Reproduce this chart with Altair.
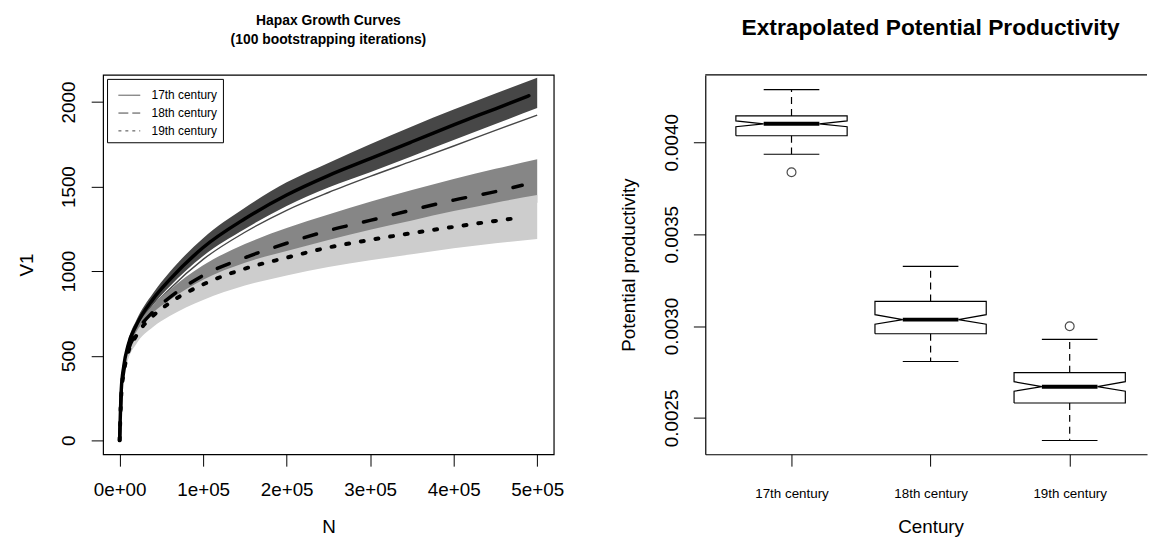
import json
import altair as alt
import pandas as pd

FONT = "Liberation Sans"

# ---------------- Left panel: hapax growth curves ----------------
centuries = ["17th century", "18th century", "19th century"]
band_colors = ["#474747", "#868686", "#cdcdcd"]

band_N = [0, 2000, 5000, 10000, 20000, 40000, 60000, 100000, 150000,
          200000, 250000, 300000, 350000, 400000, 450000, 500000]
c17_upper = [0, 315, 460, 585, 710, 870, 995, 1195, 1375, 1525, 1640, 1750, 1855, 1955, 2050, 2144]
c17_lower = [0, 285, 420, 535, 650, 800, 910, 1090, 1250, 1385, 1495, 1585, 1680, 1775, 1870, 1965]
c17_single = [0, 285, 415, 525, 640, 790, 895, 1070, 1230, 1360, 1465, 1560, 1650, 1740, 1832, 1922]
c18_upper = [0, 290, 425, 545, 665, 800, 890, 1035, 1160, 1255, 1335, 1410, 1480, 1545, 1605, 1662]
c18_lower = [0, 260, 385, 495, 595, 710, 785, 900, 1000, 1080, 1150, 1210, 1265, 1315, 1360, 1405]
c19_upper = [0, 280, 410, 530, 640, 755, 830, 950, 1050, 1120, 1185, 1245, 1300, 1355, 1405, 1450]
c19_lower = [0, 250, 370, 475, 570, 670, 735, 830, 915, 975, 1025, 1065, 1100, 1135, 1165, 1190]

mean_N_17 = [0, 2000, 5000, 10000, 20000, 40000, 60000, 100000, 150000,
             200000, 250000, 300000, 350000, 400000, 450000, 490000]
mean_N_1819 = [0, 2000, 5000, 10000, 20000, 40000, 60000, 100000, 150000,
               200000, 250000, 300000, 350000, 400000, 450000, 482000]
mean17 = [0, 300, 440, 560, 680, 835, 950, 1140, 1310, 1450, 1565, 1665, 1765, 1865, 1960, 2037]
mean18 = [0, 280, 410, 525, 635, 760, 845, 975, 1080, 1165, 1240, 1300, 1362, 1420, 1470, 1508]
mean19 = [0, 270, 400, 515, 619, 736, 813, 922, 1015, 1080, 1140, 1185, 1225, 1262, 1297, 1318]

x_ticks = [0, 100000, 200000, 300000, 400000, 500000]
x_tick_labels = ["0e+00", "1e+05", "2e+05", "3e+05", "4e+05", "5e+05"]
y_ticks = [0, 500, 1000, 1500, 2000]

LW, LH = 455, 383

xs = alt.Scale(domain=[-19800, 519800], nice=False, zero=False)
ys = alt.Scale(domain=[-82, 2160], nice=False, zero=False)

x_axis_left = alt.Axis(
    values=x_ticks,
    labelExpr=json.dumps(x_tick_labels) + "[round(datum.value / 100000)]",
    labelFont=FONT, labelFontSize=19, labelColor="black",
    labelBaseline="alphabetic", labelPadding=30, labelFlush=False, labelOverlap=False,
    tickSize=12, tickColor="black", tickWidth=1, domain=False, grid=False,
    title="N", titleFont=FONT, titleFontSize=19, titleFontWeight="normal",
    titleColor="black", titleBaseline="alphabetic", titleAlign="center",
    titleX=LW / 2, titleY=79,
)
y_axis_left = alt.Axis(
    values=y_ticks, format="d",
    labelFont=FONT, labelFontSize=19, labelColor="black",
    labelAngle=270, labelAlign="center", labelBaseline="alphabetic",
    labelPadding=17, labelOverlap=False, labelFlush=False,
    tickSize=12, tickColor="black", tickWidth=1, domain=False, grid=False,
    title="V1", titleFont=FONT, titleFontSize=19, titleFontWeight="normal",
    titleColor="black", titleAngle=270, titleAlign="center",
    titleBaseline="alphabetic", titleX=-71, titleY=LH / 2,
)


def band_layer(upper, lower, color):
    df = pd.DataFrame({"N": band_N, "upper": upper, "lower": lower})
    return alt.Chart(df).mark_area(color=color, interpolate="monotone").encode(
        x=alt.X("N:Q", scale=xs, axis=x_axis_left, title="N"),
        y=alt.Y("upper:Q", scale=ys, axis=y_axis_left, title="V1"),
        y2="lower:Q",
    )


def line_layer(nvals, vvals, **mark):
    df = pd.DataFrame({"N": nvals, "V": vvals})
    return alt.Chart(df).mark_line(interpolate="monotone", **mark).encode(
        x=alt.X("N:Q", scale=xs, axis=x_axis_left, title="N"),
        y=alt.Y("V:Q", scale=ys, axis=y_axis_left, title="V1"),
    )


legend_df = pd.DataFrame({
    "N": mean_N_17 + mean_N_1819 + mean_N_1819,
    "V": mean17 + mean18 + mean19,
    "century": [centuries[0]] * len(mean17) + [centuries[1]] * len(mean18) + [centuries[2]] * len(mean19),
})
legend_layer = alt.Chart(legend_df).transform_filter("datum.N < 0").mark_line(
    color="#444444", strokeWidth=1
).encode(
    x=alt.X("N:Q", scale=xs, axis=x_axis_left, title="N"),
    y=alt.Y("V:Q", scale=ys, axis=y_axis_left, title="V1"),
    strokeDash=alt.StrokeDash(
        "century:N",
        scale=alt.Scale(domain=centuries, range=[[1, 0], [10, 4], [3, 4]]),
        legend=alt.Legend(
            title=None, orient="top-left", offset=4,
            symbolType="stroke", symbolSize=484, symbolStrokeWidth=1,
            symbolStrokeColor="#444444", symbolOffset=6,
            labelFont=FONT, labelFontSize=12, labelColor="black",
            labelOffset=11, labelLimit=300,
            strokeColor="black", fillColor="white", padding=5, rowPadding=-7,
        ),
    ),
)

left = alt.layer(
    band_layer(c17_upper, c17_lower, band_colors[0]),
    line_layer(band_N, c17_single, color=band_colors[0], strokeWidth=1.4),
    band_layer(c18_upper, c18_lower, band_colors[1]),
    band_layer(c19_upper, c19_lower, band_colors[2]),
    line_layer(mean_N_17, mean17, color="black", strokeWidth=3.5, strokeCap="round"),
    line_layer(mean_N_1819, mean18, color="black", strokeWidth=3.5, strokeCap="round", strokeDash=[13, 18]),
    line_layer(mean_N_1819, mean19, color="black", strokeWidth=4, strokeCap="round", strokeDash=[3, 12]),
    legend_layer,
).properties(
    width=LW, height=LH,
    title=alt.TitleParams(
        text=["Hapax Growth Curves", "(100 bootstrapping iterations)"],
        font=FONT, fontSize=14, fontWeight="bold", color="black",
        anchor="middle", offset=28, lineHeight=19,
    ),
)

# ---------------- Right panel: notched box plots ----------------
century_idx = [1, 2, 3]
whisk_lo = [0.003935, 0.002807, 0.002377]
q1 = [0.004036, 0.002958, 0.002581]
notch_lo = [0.004085, 0.003010, 0.002645]
median = [0.004101, 0.003035, 0.002670]
notch_hi = [0.004117, 0.003062, 0.002697]
q3 = [0.004144, 0.003134, 0.002746]
whisk_hi = [0.004287, 0.003325, 0.002927]
outlier_idx = [1, 3]
outlier_val = [0.003837, 0.002999]
p_ticks = [0.0025, 0.0030, 0.0035, 0.0040]

BOX_HALF, NOTCH_HALF, CAP_HALF = 0.4, 0.2, 0.2
RW, RH = 446, 383

bxs = alt.Scale(domain=[0.38, 3.556], nice=False, zero=False)
bys = alt.Scale(domain=[0.002302, 0.004367], nice=False, zero=False)

x_axis_right = alt.Axis(
    values=century_idx,
    labelExpr=json.dumps(centuries) + "[round(datum.value) - 1]",
    labelFont=FONT, labelFontSize=13.5, labelColor="black",
    labelBaseline="alphabetic", labelPadding=32, labelFlush=False, labelOverlap=False,
    tickSize=12, tickColor="black", tickWidth=1,
    domain=True, domainColor="black", domainWidth=1.2, grid=False,
    title="Century", titleFont=FONT, titleFontSize=19, titleFontWeight="normal",
    titleColor="black", titleBaseline="alphabetic", titleAlign="center",
    titleX=227.5, titleY=79,
)
y_axis_right = alt.Axis(
    values=p_ticks, format=".4f",
    labelFont=FONT, labelFontSize=19, labelColor="black",
    labelAngle=270, labelAlign="center", labelBaseline="alphabetic",
    labelPadding=16, labelOverlap=False, labelFlush=False,
    tickSize=12, tickColor="black", tickWidth=1,
    domain=True, domainColor="black", domainWidth=1.2, grid=False,
    title="Potential productivity", titleFont=FONT, titleFontSize=19,
    titleFontWeight="normal", titleColor="black", titleAngle=270,
    titleAlign="center", titleBaseline="alphabetic", titleX=-71, titleY=RH / 2,
)

poly_rows = []
for i, c in enumerate(century_idx):
    pts = [
        (c - BOX_HALF, q1[i]), (c + BOX_HALF, q1[i]), (c + BOX_HALF, notch_lo[i]),
        (c + NOTCH_HALF, median[i]), (c + BOX_HALF, notch_hi[i]), (c + BOX_HALF, q3[i]),
        (c - BOX_HALF, q3[i]), (c - BOX_HALF, notch_hi[i]), (c - NOTCH_HALF, median[i]),
        (c - BOX_HALF, notch_lo[i]), (c - BOX_HALF, q1[i]),
    ]
    for k, (px, py) in enumerate(pts):
        poly_rows.append({"cent": centuries[i], "k": k, "x": px, "y": py})
poly_df = pd.DataFrame(poly_rows)

whisker_df = pd.DataFrame({
    "x": century_idx + century_idx,
    "y1": q3 + q1,
    "y2": whisk_hi + whisk_lo,
})
cap_df = pd.DataFrame({
    "xl": [c - CAP_HALF for c in century_idx] * 2,
    "xr": [c + CAP_HALF for c in century_idx] * 2,
    "y": whisk_hi + whisk_lo,
})
med_df = pd.DataFrame({
    "xl": [c - NOTCH_HALF for c in century_idx],
    "xr": [c + NOTCH_HALF for c in century_idx],
    "y": median,
})
out_df = pd.DataFrame({"x": outlier_idx, "y": outlier_val})


def RX(field):
    return alt.X(field, scale=bxs, axis=x_axis_right, title="Century")


def RY(field):
    return alt.Y(field, scale=bys, axis=y_axis_right, title="Potential productivity")


whiskers = alt.Chart(whisker_df).mark_rule(color="black", strokeWidth=1.2, strokeDash=[7, 5]).encode(
    x=RX("x:Q"), y=RY("y1:Q"), y2="y2:Q")
caps = alt.Chart(cap_df).mark_rule(color="black", strokeWidth=1.2).encode(
    x=RX("xl:Q"), x2="xr:Q", y=RY("y:Q"))
boxes = alt.Chart(poly_df).mark_line(color="black", strokeWidth=1.2, strokeJoin="miter").encode(
    x=RX("x:Q"), y=RY("y:Q"), detail="cent:N", order=alt.Order("k:Q"))
medians = alt.Chart(med_df).mark_rule(color="black", strokeWidth=4).encode(
    x=RX("xl:Q"), x2="xr:Q", y=RY("y:Q"))
outliers = alt.Chart(out_df).mark_point(shape="circle", filled=False, size=80, color="black", strokeWidth=1.2).encode(
    x=RX("x:Q"), y=RY("y:Q"))
top_edge = alt.Chart(pd.DataFrame({"a": [0]})).mark_rule(color="black", strokeWidth=1.2).encode(
    x=alt.value(0), x2=alt.value(RW), y=alt.value(0))

right = alt.layer(whiskers, caps, boxes, medians, outliers, top_edge).properties(
    width=RW, height=RH,
    view=alt.ViewBackground(stroke="transparent"),
    title=alt.TitleParams(
        text="Extrapolated Potential Productivity",
        font=FONT, fontSize=23, fontWeight="bold", color="black",
        anchor="middle", offset=35, dx=4.5,
    ),
)

chart = alt.hconcat(left, right, spacing=153, bounds="flush").properties(
    padding={"left": 9, "top": 3, "right": 0, "bottom": 0},
    background="white",
).configure_view(stroke="black", strokeWidth=1.2)

chart.save("out.html", embed_options={"renderer": "svg", "actions": False})
